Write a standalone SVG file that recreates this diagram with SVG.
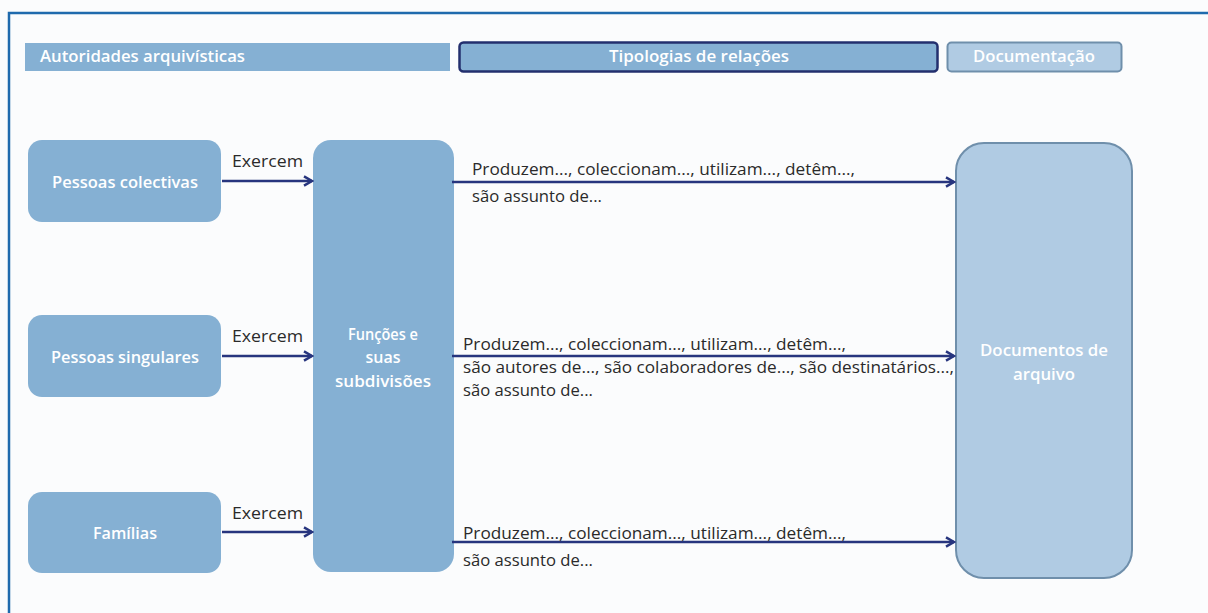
<svg xmlns="http://www.w3.org/2000/svg" width="1208" height="613" viewBox="0 0 1208 613">
  <defs>
    <marker id="arrow" viewBox="0 0 10 10" refX="8.5" refY="5" markerWidth="4.4" markerHeight="4.4" orient="auto" markerUnits="strokeWidth">
      <path d="M1.5,1 L8.5,5 L1.5,9" fill="none" stroke="#27357e" stroke-width="2.2" stroke-linejoin="miter"/>
    </marker>
    <style>
      .box { fill: #85b0d3; }
      .pale { fill: #b0cbe3; stroke: #6f8fab; stroke-width: 2; }
      .head { font-family: "Open Sans", "Liberation Sans", sans-serif; font-size: 16px; font-weight: 600; fill: #ffffff; }
      .label { font-family: "Open Sans", "Liberation Sans", sans-serif; font-size: 16px; font-weight: 600; fill: #ffffff; text-anchor: middle; }
      .rel { font-family: "Open Sans", "Liberation Sans", sans-serif; font-size: 16px; fill: #2a2a2a; }
      .conn { stroke: #27357e; stroke-width: 2.6; fill: none; marker-end: url(#arrow); }
    </style>
  </defs>

  <rect width="1208" height="613" fill="#fbfcfd"/>
  <!-- frame -->
  <path d="M9,613 V13 H1208" fill="none" stroke="#1f6aad" stroke-width="2.5"/>

  <!-- column headers -->
  <g id="hdr-autoridades">
    <rect x="25" y="43" width="425" height="28" class="box"/>
    <text x="40" y="62" class="head" textLength="205" lengthAdjust="spacingAndGlyphs">Autoridades arquivísticas</text>
  </g>
  <g id="hdr-tipologias">
    <rect x="459.5" y="42.5" width="478" height="29" rx="4" class="box" stroke="#232f6e" stroke-width="2.5"/>
    <text x="699" y="62" class="label" textLength="180" lengthAdjust="spacingAndGlyphs">Tipologias de relações</text>
  </g>
  <g id="hdr-documentacao">
    <rect x="947.5" y="42.5" width="174" height="29" rx="4" class="pale"/>
    <text x="1034" y="62" class="label" textLength="122" lengthAdjust="spacingAndGlyphs">Documentação</text>
  </g>

  <!-- entities -->
  <g id="pessoas-colectivas">
    <rect x="28" y="140" width="193" height="82" rx="14" class="box"/>
    <text x="125" y="188" class="label" textLength="146" lengthAdjust="spacingAndGlyphs">Pessoas colectivas</text>
  </g>
  <g id="pessoas-singulares">
    <rect x="28" y="315" width="193" height="82" rx="14" class="box"/>
    <text x="125" y="363" class="label" textLength="148" lengthAdjust="spacingAndGlyphs">Pessoas singulares</text>
  </g>
  <g id="familias">
    <rect x="28" y="492" width="193" height="81" rx="14" class="box"/>
    <text x="125" y="539" class="label" textLength="64" lengthAdjust="spacingAndGlyphs">Famílias</text>
  </g>
  <g id="funcoes">
    <rect x="313" y="140" width="141" height="432" rx="18" class="box"/>
    <text x="383" y="340" class="label" textLength="70" lengthAdjust="spacingAndGlyphs">Funções e</text>
    <text x="383" y="363" class="label">suas</text>
    <text x="383" y="387" class="label" textLength="96" lengthAdjust="spacingAndGlyphs">subdivisões</text>
  </g>
  <g id="documentos">
    <rect x="956" y="143" width="176" height="435" rx="28" class="pale"/>
    <text x="1044" y="356" class="label" textLength="128" lengthAdjust="spacingAndGlyphs">Documentos de</text>
    <text x="1044" y="380" class="label" textLength="62" lengthAdjust="spacingAndGlyphs">arquivo</text>
  </g>

  <!-- connectors -->
  <g id="connectors">
    <line x1="222" y1="181" x2="312" y2="181" class="conn"/>
    <line x1="222" y1="356" x2="312" y2="356" class="conn"/>
    <line x1="222" y1="532" x2="312" y2="532" class="conn"/>
    <line x1="452" y1="182" x2="954" y2="182" class="conn"/>
    <line x1="452" y1="356" x2="954" y2="356" class="conn"/>
    <line x1="452" y1="542" x2="954" y2="542" class="conn"/>

    <text x="232" y="167" class="rel" textLength="71" lengthAdjust="spacingAndGlyphs">Exercem</text>
    <text x="232" y="342" class="rel" textLength="71" lengthAdjust="spacingAndGlyphs">Exercem</text>
    <text x="232" y="519" class="rel" textLength="71" lengthAdjust="spacingAndGlyphs">Exercem</text>

    <text x="472" y="175" class="rel" textLength="383" lengthAdjust="spacingAndGlyphs">Produzem..., coleccionam..., utilizam..., detêm...,</text>
    <text x="472" y="202" class="rel" textLength="130" lengthAdjust="spacingAndGlyphs">são assunto de...</text>

    <text x="463" y="350" class="rel" textLength="383" lengthAdjust="spacingAndGlyphs">Produzem..., coleccionam..., utilizam..., detêm...,</text>
    <text x="463" y="373" class="rel" textLength="491" lengthAdjust="spacingAndGlyphs">são autores de..., são colaboradores  de..., são destinatários...,</text>
    <text x="463" y="396" class="rel" textLength="130" lengthAdjust="spacingAndGlyphs">são assunto de...</text>

    <text x="463" y="539" class="rel" textLength="383" lengthAdjust="spacingAndGlyphs">Produzem..., coleccionam..., utilizam..., detêm...,</text>
    <text x="463" y="566" class="rel" textLength="130" lengthAdjust="spacingAndGlyphs">são assunto de...</text>
  </g>
</svg>
